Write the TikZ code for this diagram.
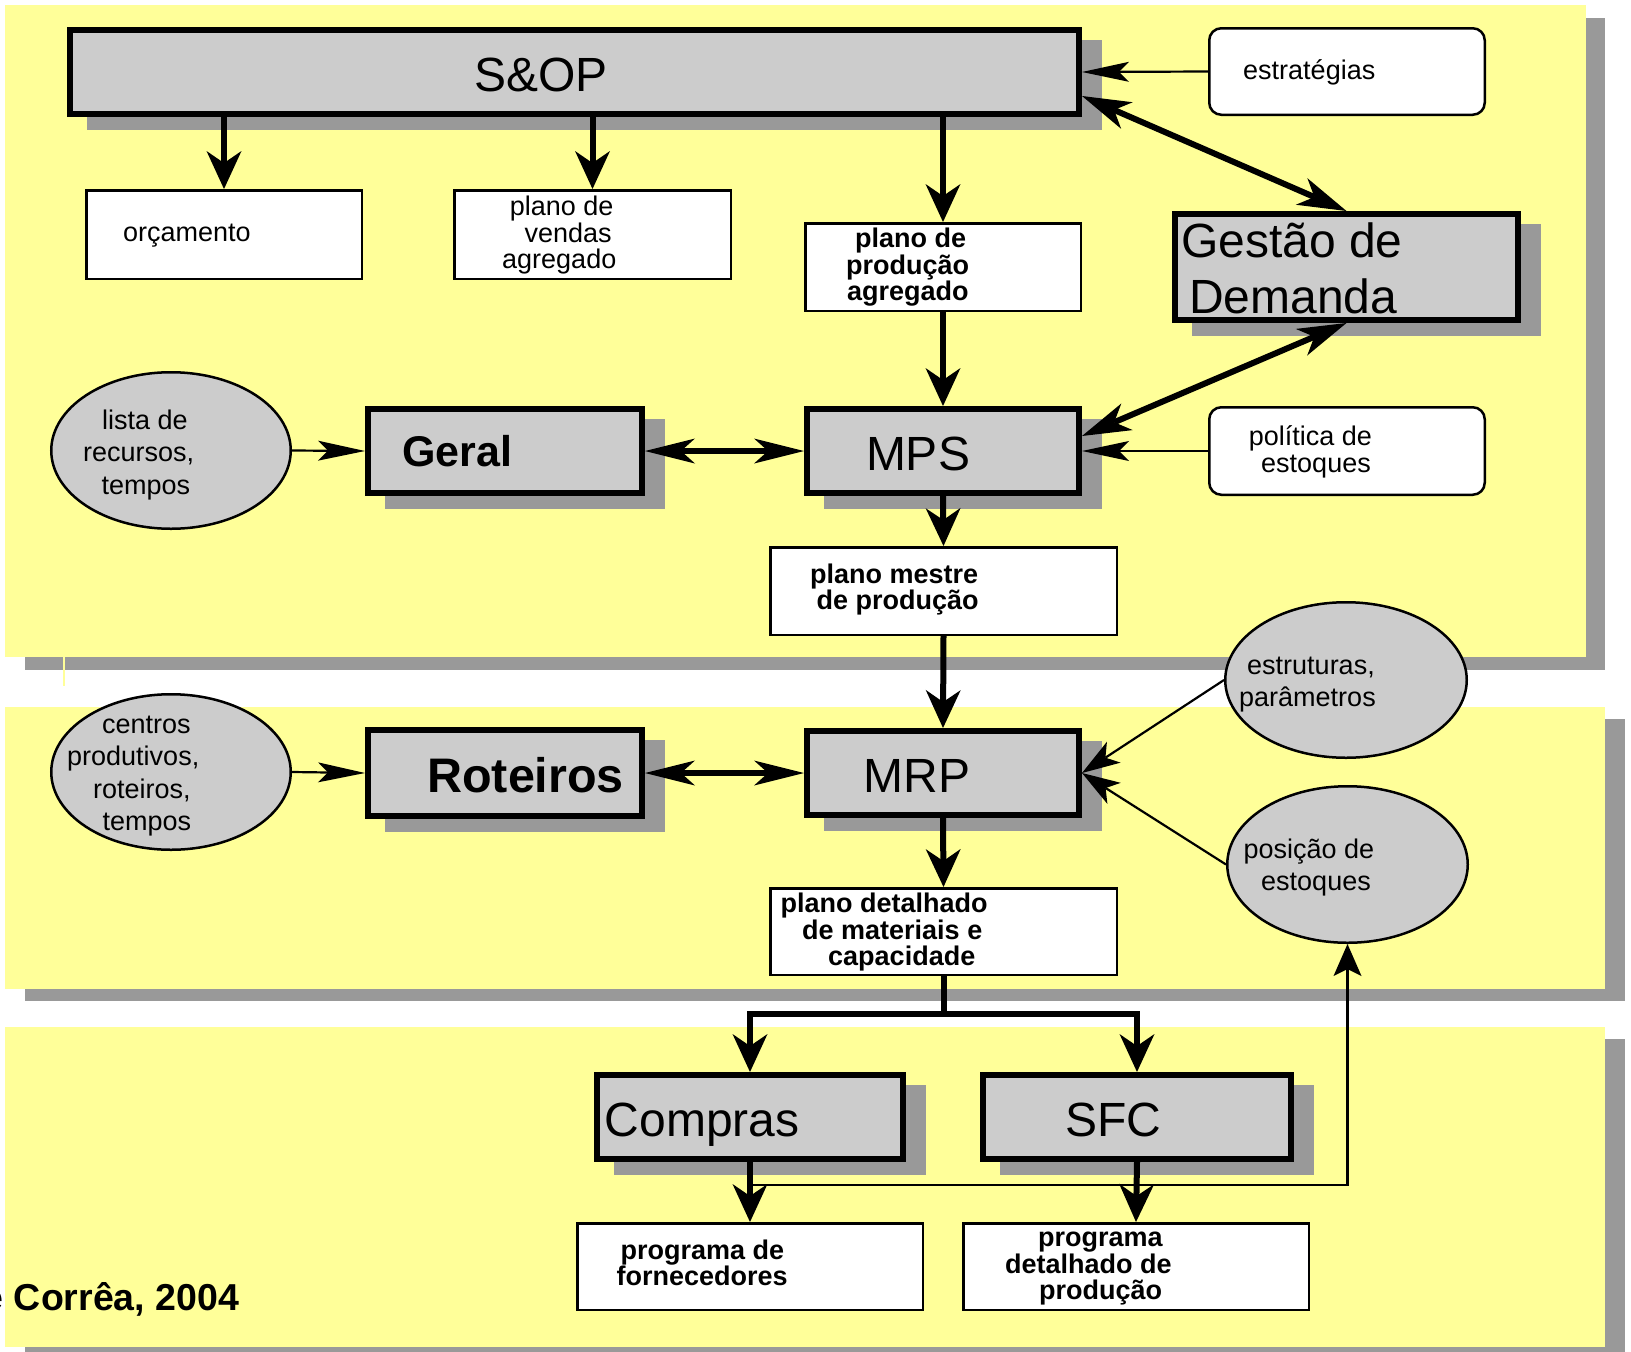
\documentclass[tikz,border=0pt]{standalone}
\usepackage{fontspec}
\setmainfont{Liberation Sans}
\usetikzlibrary{arrows.meta,calc,shapes.geometric}

\definecolor{panelyellow}{RGB}{255,255,153}
\definecolor{shadowgray}{RGB}{153,153,153}
\definecolor{boxgray}{RGB}{204,204,204}

\pgfdeclarelayer{panels}
\pgfdeclarelayer{shadows}
\pgfsetlayers{panels,shadows,main}

\tikzset{
  procbox/.style={draw, rectangle, line width=6pt, fill=boxgray, inner sep=0pt},
  outbox/.style={draw, rectangle, line width=2.5pt, fill=white, inner sep=0pt},
  inbox/.style={draw, rectangle, rounded corners=12pt, line width=2.5pt, fill=white, inner sep=0pt},
  filebox/.style={draw, ellipse, line width=2.5pt, fill=boxgray, inner sep=0pt},
  lbl/.style={inner sep=0pt, align=left, anchor=base west, font=\fontsize{27}{26.5}\selectfont},
  lblb/.style={inner sep=0pt, align=left, anchor=base west, font=\bfseries\fontsize{27}{26.5}\selectfont},
  lbloval/.style={inner sep=0pt, align=left, anchor=base west, font=\fontsize{27}{32.5}\selectfont},
  bigtxt/.style={inner sep=0pt, align=left, font=\fontsize{48}{56}\selectfont},
  vflow/.style={line width=6pt, -{Stealth[length=38pt,width=35pt,inset=12pt,line width=0pt]}},
  hflow2/.style={line width=6pt, {Stealth[length=50pt,width=25pt,inset=14pt,line width=0pt]}-{Stealth[length=50pt,width=25pt,inset=14pt,line width=0pt]}},
  dflow2/.style={line width=6pt, {Stealth[length=49pt,width=29pt,inset=14pt,line width=0pt]}-{Stealth[length=49pt,width=29pt,inset=14pt,line width=0pt]}},
  hfeed/.style={line width=2.2pt, -{Stealth[length=47pt,width=20pt,inset=10pt,line width=0pt]}},
  dfeed/.style={line width=2.2pt, -{Stealth[length=38pt,width=25pt,inset=10pt,line width=0pt]}},
  vfeed/.style={line width=2.2pt, -{Stealth[length=32pt,width=28pt,inset=7pt,line width=0pt]}}
}

\begin{document}
\begin{tikzpicture}[x=1pt,y=-1pt]
\useasboundingbox (0,0) rectangle (1631,1352);

% three planning levels
\begin{pgfonlayer}{panels}
  \fill[shadowgray] (25,18) rectangle (1605,670);
  \fill[panelyellow] (5,5) rectangle (1586,657);
  \fill[shadowgray] (25,719) rectangle (1625,1001);
  \fill[panelyellow] (5,707) rectangle (1605,989);
  \fill[shadowgray] (25,1039) rectangle (1625,1365);
  \fill[panelyellow] (5,1027) rectangle (1605,1347);
  \draw[panelyellow, line width=1.2pt] (64,657) -- (64,686);
\end{pgfonlayer}

% process boxes
\node[procbox, minimum width=1009, minimum height=84] (sop) at (574.5,72) {};
\node[procbox, minimum width=343, minimum height=106] (gestao) at (1346.5,267) {};
\node[procbox, minimum width=272, minimum height=84] (mps) at (943,451) {};
\node[procbox, minimum width=274, minimum height=84] (geral) at (505,451) {};
\node[procbox, minimum width=274, minimum height=86] (roteiros) at (505,773) {};
\node[procbox, minimum width=272, minimum height=84] (mrp) at (943,773) {};
\node[procbox, minimum width=306, minimum height=84] (compras) at (750,1117) {};
\node[procbox, minimum width=308, minimum height=84] (sfc) at (1137,1117) {};

% outputs
\node[outbox, minimum width=275.5, minimum height=88.5] (orc) at (224,234.5) {};
\node[outbox, minimum width=276.5, minimum height=88.5] (vendas) at (592.5,234.5) {};
\node[outbox, minimum width=275.5, minimum height=87.5] (pprod) at (943,267) {};
\node[outbox, minimum width=346.5, minimum height=87.5] (pmestre) at (943.5,591) {};
\node[outbox, minimum width=346.5, minimum height=86.5] (pdet) at (943.5,931.5) {};
\node[outbox, minimum width=345.5, minimum height=86.5] (pforn) at (750,1266.5) {};
\node[outbox, minimum width=345.5, minimum height=86.5] (pdetprod) at (1136,1266.5) {};

% inputs
\node[inbox, minimum width=275.5, minimum height=86.5] (estrat) at (1347,71.5) {};
\node[inbox, minimum width=275.5, minimum height=87.5] (pol) at (1347,451) {};
\node[filebox, minimum width=239.5, minimum height=156.5] (lista) at (171,450.5) {};
\node[filebox, minimum width=239.5, minimum height=155.5] (centros) at (171,772) {};
\node[filebox, minimum width=241.5, minimum height=155.5] (estrut) at (1346,680) {};
\node[filebox, minimum width=240.5, minimum height=156.5] (posicao) at (1347.5,864.5) {};

% drop shadows of the process boxes
\begin{pgfonlayer}{shadows}
  \foreach \b in {sop,gestao,mps,geral,roteiros,mrp,compras,sfc}
    \fill[shadowgray] ($(\b.south west)+(20,13)$) rectangle ($(\b.north east)+(20,13)$);
\end{pgfonlayer}

% flows
\draw[vflow] (sop.south -| orc.north) -- (orc.north);
\draw[vflow] (sop.south -| vendas.north) -- (vendas.north);
\draw[vflow] (sop.south -| pprod.north) -- (pprod.north);
\draw[vflow] (pprod.south) -- (mps.north);
\draw[hfeed] (estrat.west) -- (sop.east);
\draw[dflow2] ($(sop.east)+(0,24)$) -- (gestao.north);
\draw[dflow2] (gestao.south) -- ($(mps.east)+(0,-15)$);
\draw[hfeed] (pol.west) -- (mps.east);
\draw[vflow] (mps.south) -- (pmestre.north);
\draw[hflow2] (geral.east) -- (mps.west);
\draw[hfeed] (lista.east) -- (geral.west);
\draw[vflow] (pmestre.south) -- (mrp.north);
\draw[hflow2] (roteiros.east) -- (mrp.west);
\draw[hfeed] (centros.east) -- (roteiros.west);
\draw[dfeed] (estrut.west) -- (mrp.east);
\draw[dfeed] (posicao.west) -- (mrp.east);
\draw[vflow] (mrp.south) -- (pdet.north);
\draw[line width=6pt] (pdet.south) -- ++(0,38) coordinate (split);
\draw[vflow] (split) -| (compras.north);
\draw[vflow] (split) -| (sfc.north);
\draw[vflow] (compras.south) -- (pforn.north);
\draw[vflow] (sfc.south) -- (pdetprod.north);
\path (compras.south) ++(0,23) coordinate (stockfb);
\draw[vfeed] (stockfb) -| (posicao.south);

% labels (multi-line labels are placed by the baseline of their last line)
\node[bigtxt, anchor=base] (sop-t) at (541,91) {S\&OP};
\node[bigtxt, anchor=base west] (gestao-t) at (1181,313) {Gestão de\\\hspace*{8pt}Demanda};
\node[bigtxt, anchor=base] (mps-t) at (918,470) {MPS};
\node[bigtxt, anchor=base] (mrp-t) at (917,792) {MRP};
\node[bigtxt, anchor=base west] (compras-t) at (604.5,1136) {Compras};
\node[bigtxt, anchor=base] (sfc-t) at (1113,1136) {SFC};
\node[inner sep=0pt, anchor=base west, font=\bfseries\fontsize{43}{50}\selectfont] (geral-t) at (402,466) {Geral};
\node[inner sep=0pt, anchor=base west, font=\bfseries\fontsize{48.5}{56}\selectfont] (roteiros-t) at (427,792) {Roteiros};

\node[lbl] (orc-t) at (123,241) {orçamento};
\node[lbl] (vendas-t) at (502,268.5) {\hspace*{7.7pt}plano de\\\hspace*{22.3pt}vendas\\agregado};
\node[lblb] (pprod-t) at (846,300.5) {\hspace*{9pt}plano de\\produção\\\hspace*{1pt}agregado};
\node[lbl] (estrat-t) at (1243,79) {estratégias};
\node[lbl] (pol-t) at (1248.7,472) {política de\\\hspace*{12.3pt}estoques};
\node[lblb] (pmestre-t) at (810,609.5) {plano mestre\\\hspace*{6.5pt}de produção};
\node[lbloval] (lista-t) at (83,494) {\hspace*{19pt}lista de\\recursos,\\\hspace*{18.5pt}tempos};
\node[lbloval] (centros-t) at (67,830.5) {\hspace*{35pt}centros\\produtivos,\\\hspace*{26pt}roteiros,\\\hspace*{35.5pt}tempos};
\node[lbloval] (estrut-t) at (1239,706.5) {\hspace*{8pt}estruturas,\\parâmetros};
\node[lbloval] (posicao-t) at (1243.5,890.5) {posição de\\\hspace*{17.5pt}estoques};
\node[lblb] (pdet-t) at (780.5,965.5) {plano detalhado\\\hspace*{21.5pt}de materiais e\\\hspace*{47.5pt}capacidade};
\node[lblb] (pforn-t) at (616.5,1285.5) {\hspace*{4pt}programa de\\fornecedores};
\node[lblb] (pdetprod-t) at (1005,1299.5) {\hspace*{33pt}programa\\detalhado de\\\hspace*{34pt}produção};

\node[inner sep=0pt, anchor=base west, font=\bfseries\fontsize{37.5}{44}\selectfont] (credit) at (-17.5,1310) {e Corrêa, 2004};
\end{tikzpicture}
\end{document}
